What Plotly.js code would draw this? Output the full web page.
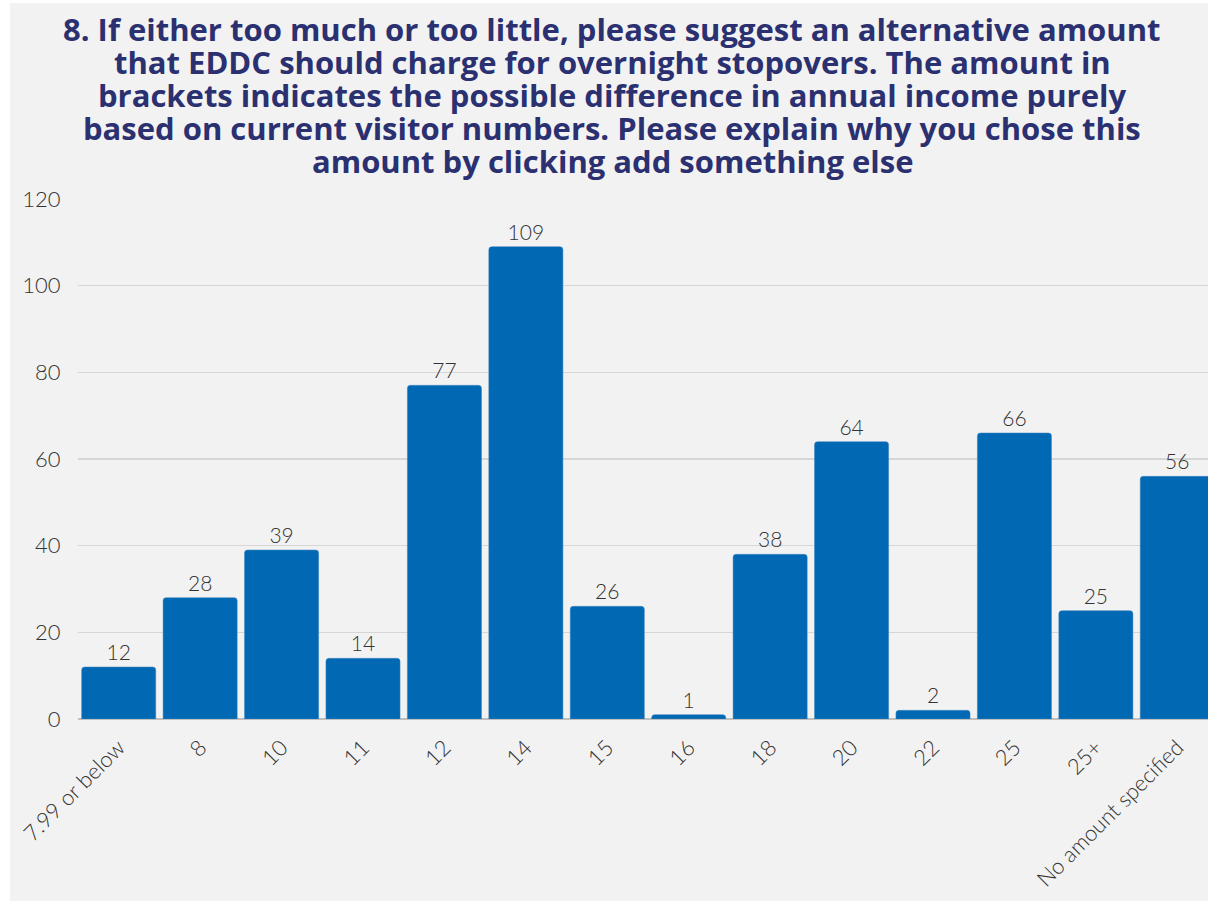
<!DOCTYPE html>
<html>
<head>
<meta charset="utf-8">
<script src="https://cdn.plot.ly/plotly-3.0.1.min.js"></script>
<style>
  html, body { margin: 0; padding: 0; background: #ffffff; overflow: hidden; width: 1208px; height: 901px; }
  #chart { position: absolute; left: 10px; top: 3px; width: 1220px; height: 898px; }
</style>
</head>
<body>
<div id="chart"></div>
<script>
const categories = ["7.99 or below", "8", "10", "11", "12", "14", "15", "16", "18", "20", "22", "25", "25+", "No amount specified"];
const counts = [12, 28, 39, 14, 77, 109, 26, 1, 38, 64, 2, 66, 25, 56];
const yTicks = [0, 20, 40, 60, 80, 100, 120];
const titleLines = [
  "8. If either too much or too little, please suggest an alternative amount",
  "that EDDC should charge for overnight stopovers. The amount in",
  "brackets indicates the possible difference in annual income purely",
  "based on current visitor numbers. Please explain why you chose this",
  "amount by clicking add something else"
];

// plot area geometry (page pixels): left 78, width 1140; y=0 at 719, height 520
const PLOT_LEFT = 78, PLOT_W = 1140, PLOT_BOTTOM = 719, PLOT_H = 520;
const titleCenterX = (612 - PLOT_LEFT) / PLOT_W;
const titleAnnotations = titleLines.map((line, i) => ({
  text: line,
  xref: "paper", yref: "paper",
  x: titleCenterX,
  y: (PLOT_BOTTOM - (29 + i * 33)) / PLOT_H,
  xanchor: "center", yanchor: "middle",
  showarrow: false,
  font: { family: "'Open Sans', sans-serif", size: 31, color: "#2b3070", weight: 700 }
}));

const trace = {
  type: "bar",
  x: categories,
  y: counts,
  text: counts.map(String),
  textposition: "outside",
  cliponaxis: false,
  textfont: { family: "Lato, sans-serif", size: 21, color: "#333333", weight: 300 },
  marker: { color: "#0168b3", cornerradius: 3, line: { color: "#3d86c2", width: 0.5 } },
  hoverinfo: "x+y"
};

const layout = {
  width: 1220,
  height: 898,
  paper_bgcolor: "#f2f2f2",
  plot_bgcolor: "#f2f2f2",
  margin: { l: 68, r: 12, t: 196, b: 182 },
  bargap: 0.09,
  showlegend: false,
  annotations: titleAnnotations,
  xaxis: {
    type: "category",
    tickangle: -45,
    tickfont: { family: "Lato, sans-serif", size: 22, color: "#333333", weight: 300 },
    showgrid: false,
    showline: false,
    ticks: "outside",
    ticklen: 6,
    tickcolor: "rgba(0,0,0,0)"
  },
  yaxis: {
    range: [0, 120],
    tickvals: yTicks,
    ticktext: yTicks.map(String),
    tickfont: { family: "Lato, sans-serif", size: 22, color: "#333333", weight: 300 },
    showgrid: true,
    gridcolor: "#d6d6d6",
    gridwidth: 1.5,
    zeroline: true,
    zerolinecolor: "#bfbfbf",
    zerolinewidth: 2,
    ticks: "outside",
    ticklen: 12,
    tickcolor: "rgba(0,0,0,0)",
    fixedrange: true
  }
};

Plotly.newPlot("chart", [trace], layout, { displayModeBar: false, staticPlot: true });
</script>
</body>
</html>
